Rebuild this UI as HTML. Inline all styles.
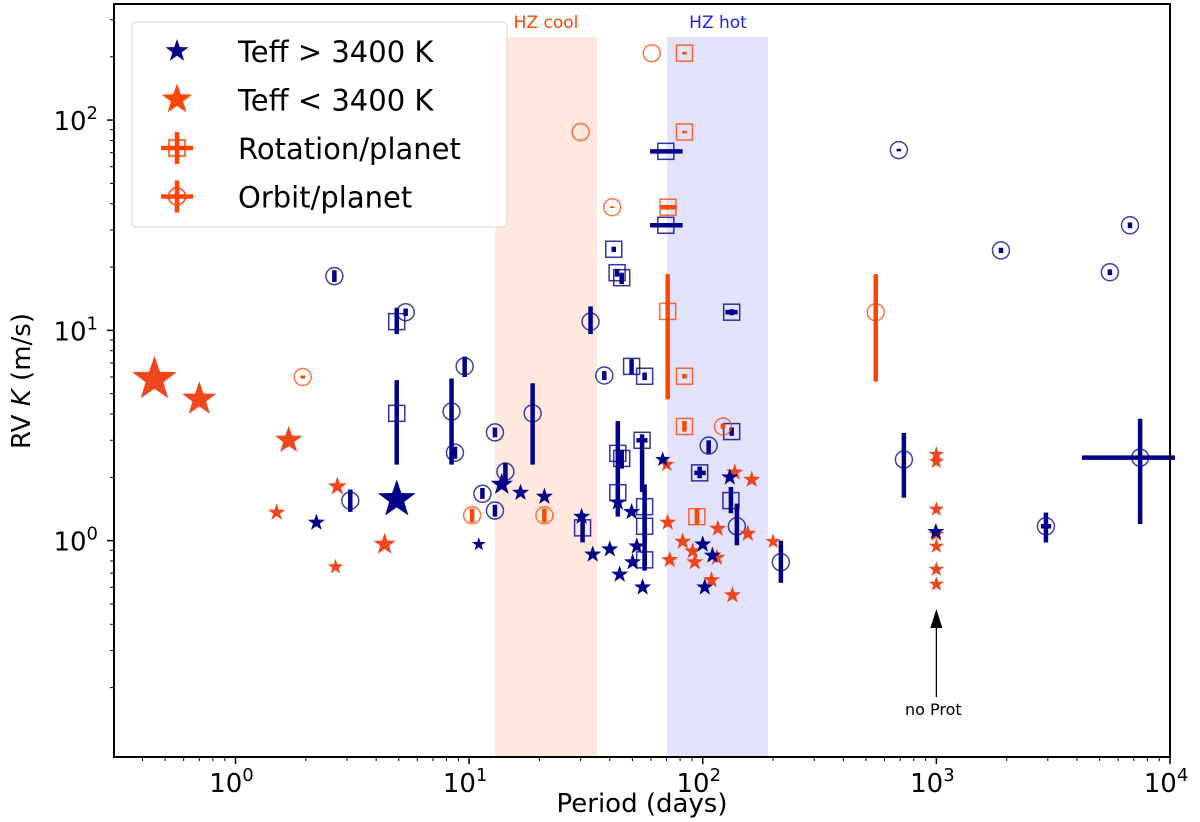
<!DOCTYPE html>
<html><head><meta charset="utf-8"><style>
html,body{margin:0;padding:0;background:#fff}
svg{display:block;font-family:"DejaVu Sans","Liberation Sans",sans-serif}
</style></head><body>
<svg id="chart" width="1200" height="822" viewBox="0 0 1200 822" xmlns="http://www.w3.org/2000/svg"></svg>
<script>
// ---- data ----
// stars: [period, K, size]
const blueStars=[[2.22,1.22,1],[11.0,0.96,0.8],[13.8,1.85,1.3],[16.6,1.69,1],[21.0,1.62,1],[30.3,1.30,1],[33.8,0.86,1],[40,0.91,1],[44.1,0.69,1],[50.1,0.79,1],[55.3,0.60,1],[52.2,0.94,1],[43.3,1.52,1],[49.6,1.37,1],[67.4,2.43,0.9],[130.5,2.0,1],[100,0.96,1],[102,0.60,1],[995,1.10,1],[4.9,1.57,2.2],[110,0.85,1]];
const orangeStars=[[0.45,5.85,2.6],[0.70,4.7,2],[1.69,3.0,1.6],[4.35,0.96,1.3],[1.5,1.36,1],[2.73,1.81,1.1],[2.68,0.75,0.9],[70.1,2.30,0.9],[70.8,1.22,1],[82.1,0.99,1],[72.2,0.81,1],[90.6,0.89,1],[92.4,0.79,1],[115,0.83,1],[109,0.65,1],[137,2.11,1],[162,1.95,1],[116,1.14,1],[156,1.08,1],[134,0.55,1],[200,0.99,0.9],[1000,2.57,0.9],[1000,2.38,0.9],[1000,1.41,0.9],[1000,1.07,0.9],[1000,0.94,0.9],[1000,0.73,0.9],[1000,0.62,0.9]];
// open markers: [period, K, kLo, kHi, pLo, pHi]
const blueCircles=[[2.65,18.1,17,19.3,0,0],[5.35,12.2,11.7,12.7,0,0],[3.1,1.55,1.37,1.75,0,0],[8.41,4.11,2.3,5.9,0,0],[8.7,2.62,2.45,2.8,0,0],[9.57,6.74,6.0,7.5,0,0],[12.9,3.27,3.1,3.45,0,0],[11.4,1.67,1.58,1.78,0,0],[12.9,1.39,1.3,1.48,0,0],[14.3,2.13,1.9,2.35,0,0],[18.7,4.03,2.3,5.6,0,0],[33.1,11.0,9.6,13.0,0,0],[37.9,6.1,5.8,6.4,0,0],[106,2.83,2.6,3.0,0,0],[140,1.17,0.95,1.5,0,0],[216,0.79,0.63,1.0,0,0],[726,2.43,1.6,3.25,0,0],[2944,1.17,0.98,1.36,2800,3100],[7450,2.48,1.2,3.8,4200,10500],[1890,24,23.3,24.7,0,0],[5530,18.9,18.3,19.5,0,0],[6740,31.6,30.6,32.6,0,0],[691,72,71,73,0,0]];
const blueSquares=[[4.9,11.0,9.6,12.8,0,0],[4.9,4.03,2.3,5.8,0,0],[41.6,24.3,23.6,25,0,0],[43,18.8,18,19.6,0,0],[45,17.8,16.6,18.8,0,0],[69.5,71,70,72,59.5,82],[69.5,31.6,31,32.2,59.5,82],[49.6,6.74,6.2,7.3,0,0],[56.4,6.05,5.8,6.3,0,0],[43.3,2.6,1.3,3.7,0,0],[45,2.46,2.2,2.7,0,0],[43.3,1.69,1.55,1.8,0,0],[55,3.0,1.7,3.2,52,58],[56.4,1.45,1.0,1.85,0,0],[56.4,1.17,0.72,1.5,0,0],[56.4,0.81,0.76,0.86,0,0],[30.6,1.15,0.98,1.35,0,0],[97,2.1,1.98,2.25,92,103],[133,12.2,11.8,12.6,125,141],[133,3.3,3.15,3.45,0,0],[132,1.55,1.35,1.8,0,0]];
const orangeCircles=[[60.5,208,0,0,0,0],[30,87.7,0,0,0,0],[41,38.5,38.2,38.8,0,0],[1.94,6.0,5.9,6.1,0,0],[10.3,1.32,1.22,1.42,0,0],[21,1.32,1.22,1.42,0,0],[122,3.49,3.4,3.6,0,0],[550,12.2,5.7,18.5,0,0]];
const orangeSquares=[[83.5,208,205,211,0,0],[83.5,87.7,86.5,88.9,0,0],[71,38.5,37.5,39.5,66,77],[70.8,12.3,4.7,18.5,0,0],[83.5,6.05,5.9,6.2,0,0],[83.5,3.49,3.3,3.7,0,0],[94.4,1.30,1.2,1.42,0,0]];
const xTicks=[1,10,100,1000,10000];
const yTicks=[1,10,100];

// ---- axes ----
const L=114,R=1170,T=4,B=757;
const xMinL=Math.log10(10**-0.52),xMaxL=4;
const yMinL=-1.029,yMaxL=2.552;
const X=p=>L+(Math.log10(p)-xMinL)/(xMaxL-xMinL)*(R-L);
const Y=k=>B-(Math.log10(k)-yMinL)/(yMaxL-yMinL)*(B-T);
const BLUE="#00008b",OR="#ff4500",ORS="#f0461e";
const svg=document.getElementById('chart');
const NS="http://www.w3.org/2000/svg";
function el(tag,attrs,parent){const e=document.createElementNS(NS,tag);for(const k in attrs)e.setAttribute(k,attrs[k]);(parent||svg).appendChild(e);return e;}
function starPts(cx,cy,r){let s=[];for(let i=0;i<10;i++){const a=-Math.PI/2+i*Math.PI/5;const rr=i%2?r*0.4:r;s.push((cx+rr*Math.cos(a)).toFixed(1)+","+(cy+rr*Math.sin(a)).toFixed(1));}return s.join(" ");}

// HZ bands
const hzc=el('rect',{x:495,y:37,width:102,height:B-37,fill:"#ffe9df"});


const hzh=el('rect',{x:667,y:37,width:101,height:B-37,fill:"#e2e2fb"});


const t1=el('text',{x:546,y:28,'font-size':17,fill:OR,'text-anchor':'middle'});t1.textContent="HZ cool";


const t2=el('text',{x:718,y:28,'font-size':17,fill:"#2020ee",'text-anchor':'middle'});t2.textContent="HZ hot";



// ticks
xTicks.forEach((v,i)=>{const x=X(v);
  el('line',{x1:x,x2:x,y1:B,y2:B+7,stroke:"#000","stroke-width":1.5});
  const t=el('text',{x:x-4,y:792,'font-size':26,'text-anchor':'middle'});
  
  
  t.innerHTML="10<tspan dy='-11' font-size='18'>"+Math.round(Math.log10(v))+"</tspan>";
  for(let m=2;m<10;m++){const xm=X(v*m/10);if(xm>L) el('line',{x1:xm,x2:xm,y1:B,y2:B+4,stroke:"#000"});}
});
yTicks.forEach(v=>{const y=Y(v);
  el('line',{x1:L-7,x2:L,y1:y,y2:y,stroke:"#000","stroke-width":1.5});
  const t=el('text',{x:98,y:y+10,'font-size':26,'text-anchor':'end'});
  
  
  t.innerHTML="10<tspan dy='-11' font-size='18'>"+Math.round(Math.log10(v))+"</tspan>";
});
for(let d=-2;d<3;d++)for(let m=2;m<10;m++){const y=Y(m*10**d);if(y>T&&y<B) el('line',{x1:L-4,x2:L,y1:y,y2:y,stroke:"#000"});}

// errorbars + open markers
function openSeries(arr,color,shape,name){
  arr.forEach(d=>{const[p,k,kl,kh,pl,ph]=d;const cx=X(p),cy=Y(k);
    const g=el('g',{});
    
    
    if(kl) el('line',{x1:cx,x2:cx,y1:Y(kl),y2:Y(kh),stroke:color,"stroke-width":4.5},g);
    if(pl) el('line',{x1:X(pl),x2:X(ph),y1:cy,y2:cy,stroke:color,"stroke-width":4.5},g);
    if(shape==='c') el('circle',{cx,cy,r:8.5,fill:"none",stroke:color,"stroke-opacity":0.75,"stroke-width":1.5},g);
    else el('rect',{x:cx-8,y:cy-8,width:16,height:16,fill:"none",stroke:color,"stroke-opacity":0.8,"stroke-width":1.5},g);
  });
}
openSeries(blueCircles,BLUE,'c','orbit-point-cool-star');
openSeries(blueSquares,BLUE,'s','rotation-point-hot');
openSeries(orangeCircles,OR,'c','orbit-point-cool');
openSeries(orangeSquares,OR,'s','rotation-point-cool');
function starSeries(arr,color,name){arr.forEach(d=>{const s=el('polygon',{points:starPts(X(d[0]),Y(d[1]),9*d[2]),fill:color});
  
  });}
starSeries(orangeStars,ORS,'star-teff-low');
starSeries(blueStars,BLUE,'star-teff-high');

// annotation
const ax=X(1000);
el('line',{x1:ax,x2:ax,y1:697,y2:625,stroke:"#000","stroke-width":1.3});
el('polygon',{points:`${ax},609 ${ax-6},628 ${ax+6},628`,fill:"#000"});
const an=el('text',{x:ax-3,y:715,'font-size':16,'text-anchor':'middle'});an.textContent="no Prot";



// frame
const fr=el('rect',{x:L,y:T,width:R-L,height:B-T,fill:"none",stroke:"#000","stroke-width":2});



// axis titles
const xt=el('text',{x:642,y:812,'font-size':26,'text-anchor':'middle'});xt.textContent="Period (days)";


const yt=el('text',{x:0,y:0,'font-size':26,'text-anchor':'middle',transform:"translate(30,381) rotate(-90)"});
yt.innerHTML="RV <tspan font-style='italic'>K</tspan> (m/s)";



// legend
const lg=el('g',{});


el('rect',{x:132,y:22,width:375,height:205,rx:4,fill:"#fff","fill-opacity":0.85,stroke:"#ddd","stroke-width":1.2},lg);
const labels=["Teff > 3400 K","Teff < 3400 K","Rotation/planet","Orbit/planet"];
labels.forEach((s,i)=>{const cy=51+i*48.5,cx=177;
  const e=el('g',{},lg);
  
  
  if(i==0) el('polygon',{points:starPts(cx,cy,12),fill:BLUE},e);
  if(i==1) el('polygon',{points:starPts(cx,cy,16),fill:OR},e);
  if(i>=2){el('line',{x1:cx-16,x2:cx+16,y1:cy,y2:cy,stroke:OR,"stroke-width":4.5},e);el('line',{x1:cx,x2:cx,y1:cy-16,y2:cy+16,stroke:OR,"stroke-width":4.5},e);
    if(i==2) el('rect',{x:cx-8,y:cy-8,width:16,height:16,fill:"none",stroke:OR,"stroke-width":1.5},e);
    else el('circle',{cx,cy,r:8.5,fill:"none",stroke:OR,"stroke-width":1.5},e);}
  const t=el('text',{x:238,y:cy+11,'font-size':29},e);t.textContent=s;
});
</script>
</body></html>
